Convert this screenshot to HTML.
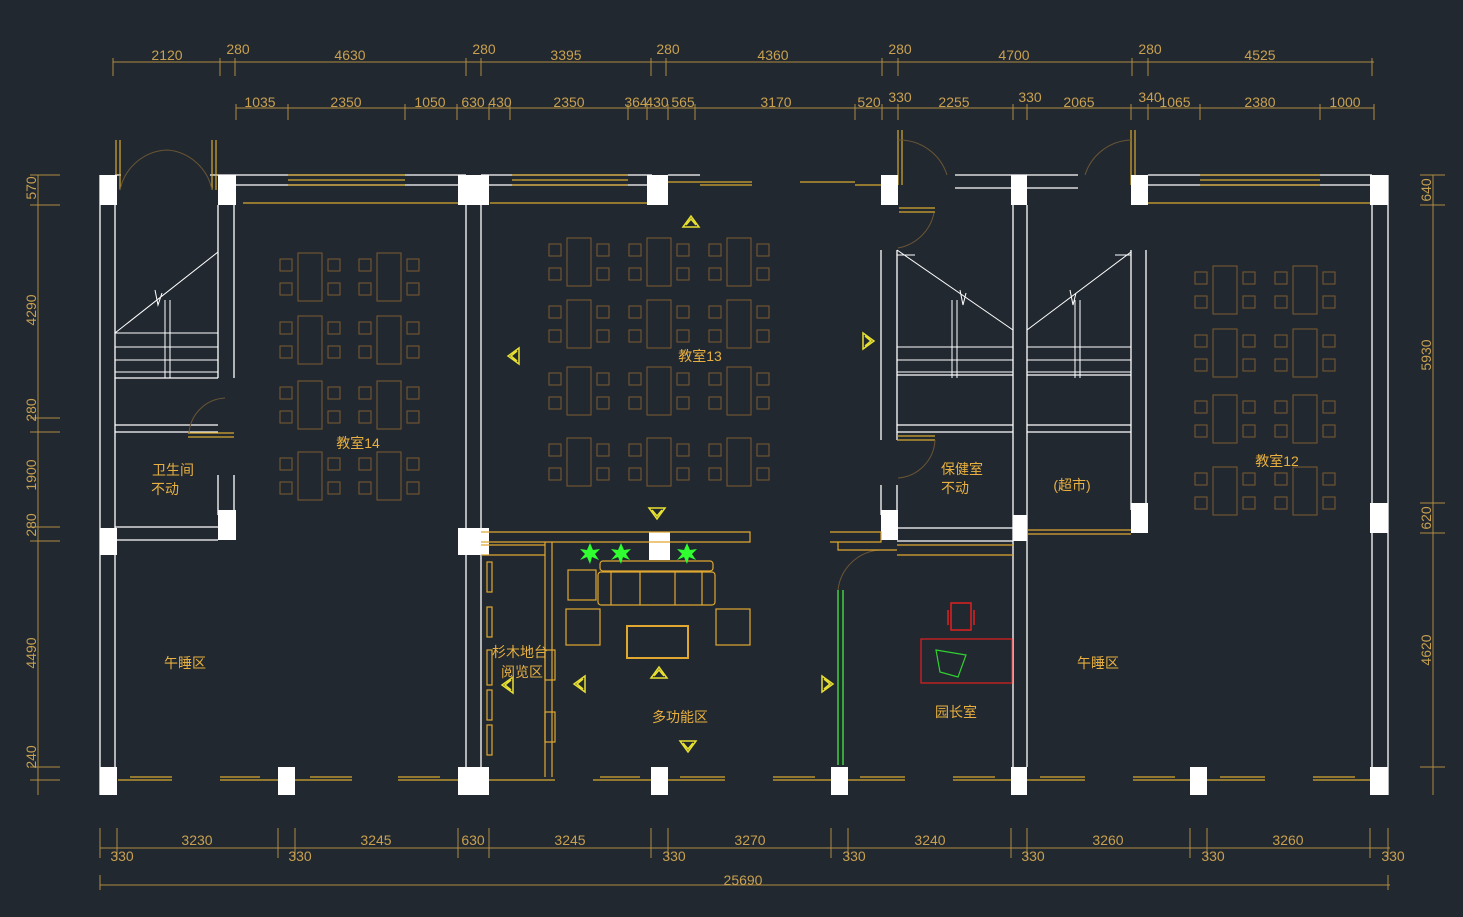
<!DOCTYPE html>
<html><head><meta charset="utf-8"><style>
html,body{margin:0;padding:0;background:#212830;}
svg{display:block}
text{font-family:"Liberation Sans","Noto Sans CJK SC",sans-serif;}
</style></head><body>
<svg width="1463" height="917" viewBox="0 0 1463 917" xmlns="http://www.w3.org/2000/svg">
<rect width="1463" height="917" fill="#212830"/>
<defs>
<g id="dk" fill="none" stroke="#7d5c30" stroke-width="1">
<rect x="0" y="0" width="24" height="48"/>
<rect x="-18" y="6" width="12" height="12"/><rect x="-18" y="30" width="12" height="12"/>
<rect x="30" y="6" width="12" height="12"/><rect x="30" y="30" width="12" height="12"/>
</g>
<g id="arr" fill="none" stroke="#e8e030" stroke-width="1.5"><path d="M-8,5 L0,-6 L8,5 Z M-5,3 L0,-3 L5,3"/></g>
</defs>

<!-- dimension lines -->
<g stroke="#b08a40" stroke-width="1" fill="none">
<line x1="113" y1="62" x2="1374" y2="62"/>
<line x1="236" y1="108" x2="1374" y2="108"/>
<line x1="100" y1="848" x2="1390" y2="848"/>
<line x1="100" y1="885" x2="1390" y2="885"/>
<line x1="38" y1="175" x2="38" y2="795"/>
<line x1="1433" y1="175" x2="1433" y2="795"/>
<path d="M113,58v18M220,58v18M235,58v18M466,58v18M481,58v18M651,58v18M666,58v18M882,58v18M898,58v18M1132,58v18M1148,58v18M1372,58v18"/>
<path d="M236,104v16M288,104v16M405,104v16M457,104v16M489,104v16M510,104v16M628,104v16M647,104v16M668,104v16M695,104v16M855,104v16M882,104v16M898,104v16M1013,104v16M1027,104v16M1131,104v16M1148,104v16M1200,104v16M1320,104v16M1374,104v16"/>
<path d="M100,828v30M117,828v30M278,828v30M295,828v30M458,828v30M489,828v30M651,828v30M668,828v30M831,828v30M848,828v30M1011,828v30M1027,828v30M1190,828v30M1207,828v30M1370,828v30M1388,828v30M100,875v15M1388,875v15"/>
<path d="M30,175h30M30,205h30M30,418h30M30,432h30M30,527h30M30,541h30M30,767h30M30,780h30"/>
<path d="M1420,175h25M1420,205h25M1420,503h25M1420,533h25M1420,767h25"/>
</g>
<g fill="#c8a050" font-size="14" text-anchor="middle">
<text x="167" y="60">2120</text><text x="238" y="54">280</text><text x="350" y="60">4630</text><text x="484" y="54">280</text><text x="566" y="60">3395</text><text x="668" y="54">280</text><text x="773" y="60">4360</text><text x="900" y="54">280</text><text x="1014" y="60">4700</text><text x="1150" y="54">280</text><text x="1260" y="60">4525</text>
<text x="260" y="107">1035</text><text x="346" y="107">2350</text><text x="430" y="107">1050</text><text x="473" y="107">630</text><text x="500" y="107">430</text><text x="569" y="107">2350</text><text x="636" y="107">364</text><text x="657" y="107">430</text><text x="683" y="107">565</text><text x="776" y="107">3170</text><text x="869" y="107">520</text><text x="900" y="102">330</text><text x="954" y="107">2255</text><text x="1030" y="102">330</text><text x="1079" y="107">2065</text><text x="1150" y="102">340</text><text x="1175" y="107">1065</text><text x="1260" y="107">2380</text><text x="1345" y="107">1000</text>
<text x="197" y="845">3230</text><text x="376" y="845">3245</text><text x="473" y="845">630</text><text x="570" y="845">3245</text><text x="750" y="845">3270</text><text x="930" y="845">3240</text><text x="1108" y="845">3260</text><text x="1288" y="845">3260</text>
<text x="122" y="861">330</text><text x="300" y="861">330</text><text x="674" y="861">330</text><text x="854" y="861">330</text><text x="1033" y="861">330</text><text x="1213" y="861">330</text><text x="1393" y="861">330</text>
<text x="743" y="885">25690</text>
<text transform="translate(36,188) rotate(-90)">570</text><text transform="translate(36,310) rotate(-90)">4290</text><text transform="translate(36,410) rotate(-90)">280</text><text transform="translate(36,475) rotate(-90)">1900</text><text transform="translate(36,525) rotate(-90)">280</text><text transform="translate(36,653) rotate(-90)">4490</text><text transform="translate(36,757) rotate(-90)">240</text>
<text transform="translate(1431,190) rotate(-90)">640</text><text transform="translate(1431,355) rotate(-90)">5930</text><text transform="translate(1431,518) rotate(-90)">620</text><text transform="translate(1431,650) rotate(-90)">4620</text>
</g>

<!-- walls -->
<g stroke="#ffffff" stroke-width="1.3" fill="none">
<path d="M100,175V795M115,205V767M1372,205V767M1388,175V795"/>
<path d="M218,205V378M234,205V378M218,475V515M234,475V515"/>
<path d="M466,205V767M481,205V767"/>
<path d="M881,250V440M897,250V440M881,485V515M897,485V515"/>
<path d="M1013,205V767M1027,205V767"/>
<path d="M1131,250V425M1146,250V425"/>
<path d="M115,175H121M210,175H466M481,175H652M668,175H700M955,175H1078M1148,175H1372"/>
<path d="M234,185H466M481,185H652M955,188H1078M1148,185H1372"/>
<path d="M115,432H218M115,425H218M115,527H218M115,540H218M897,432H1013M1027,432H1131M897,425H1013M1027,425H1131M897,528H1013M897,541H1013"/>
<path d="M1131,425V510M1146,425V510"/>
<path d="M115,378H218M897,375H1013M1027,375H1131"/>
</g>
<!-- stairs -->
<g stroke="#ffffff" stroke-width="1" fill="none">
<path d="M115,333L218,252M115,333H218M115,347H218M115,360H218M115,372H218M165,300V378M170,300V378M155,290L158,305L162,293"/>
<path d="M897,250L1013,330M897,347H1013M897,360H1013M897,372H1013M952,300V378M957,300V378M960,290L963,305L966,293"/>
<path d="M1131,252L1027,330M1027,347H1131M1027,360H1131M1027,372H1131M1075,300V378M1080,300V378M1070,290L1073,305L1076,293"/>
<path d="M897,255H915M1115,255H1131"/>
</g>
<!-- windows -->
<g stroke="#d8a830" stroke-width="1.2" fill="none">
<path d="M288,175H405M288,180H405M288,185H405M243,203H466M512,175H628M512,180H628M512,185H628M490,203H647M668,182H752M700,185H752M800,182H855M855,185H881M1200,175H1320M1200,180H1320M1200,185H1320M1148,203H1370"/>
<path d="M120,140V190M116,140V190M212,140V190M216,140V190M898,130V185M902,130V185M1131,130V185M1135,130V185M899,208H935M899,212H935M897,436H935M897,440H935"/>
<path d="M118,780H172M220,780H278M295,780H352M398,780H458M489,780H555M593,780H651M668,780H725M773,780H831M848,780H905M953,780H1011M1027,780H1085M1133,780H1190M1207,780H1265M1313,780H1370"/>
<path d="M130,777H172M220,777H260M310,777H352M398,777H440M600,777H640M680,777H725M773,777H815M860,777H905M953,777H995M1040,777H1085M1133,777H1175M1220,777H1265M1313,777H1355"/>
<path d="M188,433H234M188,437H234"/>
</g>
<g stroke="#6a5535" stroke-width="1" fill="none">
<path d="M120,190A50,50 0 0 1 168,150M212,190A50,50 0 0 0 168,150M934,213A45,45 0 0 1 898,248M898,140A50,50 0 0 1 947,175M1131,140A50,50 0 0 0 1085,175M189,433A38,38 0 0 1 225,398M935,440A40,40 0 0 1 898,478M838,590A45,45 0 0 1 880,550"/>
</g>
<!-- columns -->
<g fill="#ffffff">
<rect x="100" y="175" width="17" height="30"/><rect x="218" y="175" width="18" height="30"/><rect x="458" y="175" width="31" height="30"/><rect x="647" y="175" width="21" height="30"/><rect x="881" y="175" width="17" height="30"/><rect x="1011" y="175" width="16" height="30"/><rect x="1131" y="175" width="17" height="30"/><rect x="1370" y="175" width="18" height="30"/>
<rect x="100" y="767" width="17" height="28"/><rect x="278" y="767" width="17" height="28"/><rect x="458" y="767" width="31" height="28"/><rect x="651" y="767" width="17" height="28"/><rect x="831" y="767" width="17" height="28"/><rect x="1011" y="767" width="16" height="28"/><rect x="1190" y="767" width="17" height="28"/><rect x="1370" y="767" width="18" height="28"/>
<rect x="100" y="528" width="17" height="27"/><rect x="218" y="510" width="18" height="30"/><rect x="458" y="528" width="31" height="27"/><rect x="649" y="532" width="21" height="28"/><rect x="881" y="510" width="17" height="30"/><rect x="1013" y="515" width="14" height="26"/><rect x="1131" y="503" width="17" height="30"/><rect x="1370" y="503" width="18" height="30"/>
</g>
<!-- desks -->
<use href="#dk" x="298" y="253"/><use href="#dk" x="377" y="253"/><use href="#dk" x="298" y="316"/><use href="#dk" x="377" y="316"/><use href="#dk" x="298" y="381"/><use href="#dk" x="377" y="381"/><use href="#dk" x="298" y="452"/><use href="#dk" x="377" y="452"/>
<use href="#dk" x="567" y="238"/><use href="#dk" x="647" y="238"/><use href="#dk" x="727" y="238"/><use href="#dk" x="567" y="300"/><use href="#dk" x="647" y="300"/><use href="#dk" x="727" y="300"/><use href="#dk" x="567" y="367"/><use href="#dk" x="647" y="367"/><use href="#dk" x="727" y="367"/><use href="#dk" x="567" y="438"/><use href="#dk" x="647" y="438"/><use href="#dk" x="727" y="438"/>
<use href="#dk" x="1213" y="266"/><use href="#dk" x="1293" y="266"/><use href="#dk" x="1213" y="329"/><use href="#dk" x="1293" y="329"/><use href="#dk" x="1213" y="395"/><use href="#dk" x="1293" y="395"/><use href="#dk" x="1213" y="467"/><use href="#dk" x="1293" y="467"/>
<!-- multifunction area -->
<g stroke="#e0a830" stroke-width="1.2" fill="none">
<path d="M481,532H750V542H481M830,532H881V542H830M838,542V550H897M897,545H1013M897,555H1013"/>
<path d="M545,542V777M552,542V777M481,555H545M481,545H545"/>
<rect x="487" y="562" width="5" height="30"/><rect x="487" y="607" width="5" height="30"/><rect x="487" y="650" width="5" height="35"/><rect x="487" y="690" width="5" height="30"/><rect x="487" y="725" width="5" height="30"/>
<rect x="545" y="650" width="10" height="30"/><rect x="545" y="712" width="10" height="30"/>
<rect x="568" y="570" width="28" height="30"/>
<rect x="600" y="561" width="113" height="10" rx="3"/><rect x="598" y="572" width="117" height="33" rx="3"/><path d="M640,572V605M675,572V605M611,572V605M702,572V605"/>
<rect x="566" y="609" width="34" height="36"/><rect x="716" y="609" width="34" height="36"/>
<rect x="627" y="626" width="61" height="32" stroke-width="2"/>
<path d="M1028,534H1131M1028,530H1131"/>
</g>
<g stroke="#40d040" stroke-width="1.5" fill="none"><path d="M838,590V765M843,590V765"/></g>
<g fill="#30ff30">
<polygon points="590,543 593,550 600,549 595,554 599,560 592,557 590,564 587,557 580,560 585,554 580,549 587,550"/>
<polygon points="621,543 624,550 631,549 626,554 630,560 623,557 621,564 618,557 611,560 616,554 611,549 618,550"/>
<polygon points="687,543 690,550 697,549 692,554 696,560 689,557 687,564 684,557 677,560 682,554 677,549 684,550"/>
</g>
<!-- principal office -->
<rect x="921" y="639" width="91" height="44" fill="none" stroke="#e02020" stroke-width="1.2"/>
<path d="M951,603h20v27h-20z M948,610v15M974,610v15" fill="none" stroke="#e02020" stroke-width="1.5"/>
<path d="M936,650l30,5l-8,22l-18,-5z" fill="none" stroke="#30d030" stroke-width="1.2"/>
<!-- markers -->
<use href="#arr" x="691" y="222"/><use href="#arr" x="657" y="513" transform="rotate(180 657 513)"/><use href="#arr" x="659" y="673"/><use href="#arr" x="688" y="746" transform="rotate(180 688 746)"/>
<use href="#arr" x="514" y="356" transform="rotate(-90 514 356)"/><use href="#arr" x="868" y="341" transform="rotate(90 868 341)"/><use href="#arr" x="508" y="685" transform="rotate(-90 508 685)"/><use href="#arr" x="580" y="684" transform="rotate(-90 580 684)"/><use href="#arr" x="827" y="684" transform="rotate(90 827 684)"/>
<!-- labels -->
<g fill="#e8b040" font-size="14" text-anchor="middle">
<text x="358" y="448">教室14</text><text x="700" y="361">教室13</text><text x="1277" y="466">教室12</text>
<text x="173" y="475">卫生间</text><text x="165" y="494">不动</text>
<text x="962" y="474">保健室</text><text x="955" y="493">不动</text>
<text x="1072" y="490">(超市)</text>
<text x="185" y="668">午睡区</text><text x="1098" y="668">午睡区</text>
<text x="520" y="657">杉木地台</text><text x="522" y="677">阅览区</text>
<text x="680" y="722">多功能区</text><text x="956" y="717">园长室</text>
</g>
</svg>
</body></html>
